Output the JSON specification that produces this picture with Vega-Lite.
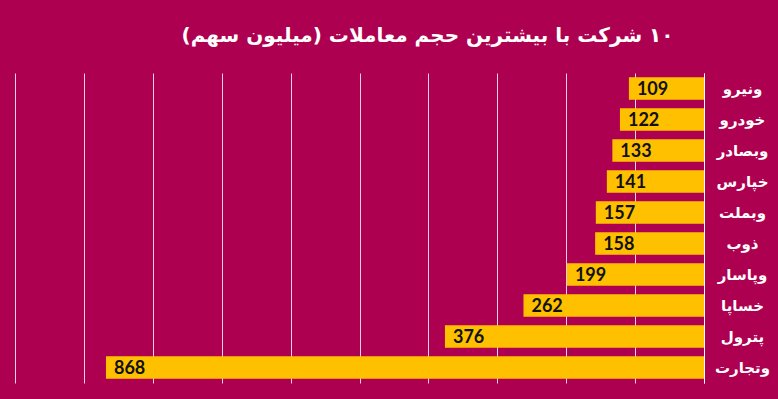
{
  "$schema": "https://vega.github.io/schema/vega-lite/v6.json",
  "autosize": "none",
  "width": 689,
  "height": 310,
  "padding": {"left": 15, "top": 73, "right": 74, "bottom": 16},
  "background": "#AE0050",
  "title": {
    "text": "\u200f۱۰ شرکت با بیشترین حجم معاملات (میلیون سهم)\u200f",
    "font": "DejaVu Sans",
    "fontSize": 20,
    "fontWeight": "bold",
    "color": "#FFFFFF",
    "anchor": "middle",
    "dx": 68,
    "offset": 27
  },
  "data": {
    "values": [
      {"name": "ونیرو", "value": 109, "rank": 1},
      {"name": "خودرو", "value": 122, "rank": 2},
      {"name": "وبصادر", "value": 133, "rank": 3},
      {"name": "خپارس", "value": 141, "rank": 4},
      {"name": "وبملت", "value": 157, "rank": 5},
      {"name": "ذوب", "value": 158, "rank": 6},
      {"name": "وپاسار", "value": 199, "rank": 7},
      {"name": "خساپا", "value": 262, "rank": 8},
      {"name": "پترول", "value": 376, "rank": 9},
      {"name": "وتجارت", "value": 868, "rank": 10}
    ]
  },
  "encoding": {
    "y": {
      "field": "name",
      "type": "nominal",
      "sort": {"field": "rank", "order": "ascending"},
      "scale": {"paddingInner": 0.28, "paddingOuter": 0.14},
      "axis": {
        "orient": "right",
        "title": null,
        "ticks": false,
        "domain": true,
        "domainColor": "#FFFFFF",
        "domainWidth": 1,
        "labelColor": "#FFFFFF",
        "labelFont": "DejaVu Sans",
        "labelFontWeight": "bold",
        "labelFontSize": 15,
        "labelAlign": "center",
        "labelPadding": 38
      }
    },
    "x": {
      "field": "value",
      "type": "quantitative",
      "scale": {"domain": [0, 1000], "reverse": true, "nice": false},
      "axis": {
        "title": null,
        "labels": false,
        "ticks": false,
        "domain": false,
        "grid": true,
        "gridColor": "#F4CFE0",
        "gridWidth": 1,
        "values": [0, 100, 200, 300, 400, 500, 600, 700, 800, 900, 1000]
      }
    }
  },
  "layer": [
    {"mark": {"type": "bar", "color": "#FFC000"}},
    {
      "mark": {
        "type": "text",
        "align": "left",
        "baseline": "middle",
        "dx": 8,
        "dy": 1,
        "font": "Lato",
        "fontWeight": "bold",
        "fontSize": 18,
        "color": "#111111"
      },
      "encoding": {"text": {"field": "value", "type": "quantitative"}}
    }
  ],
  "config": {"view": {"stroke": null}}
}
